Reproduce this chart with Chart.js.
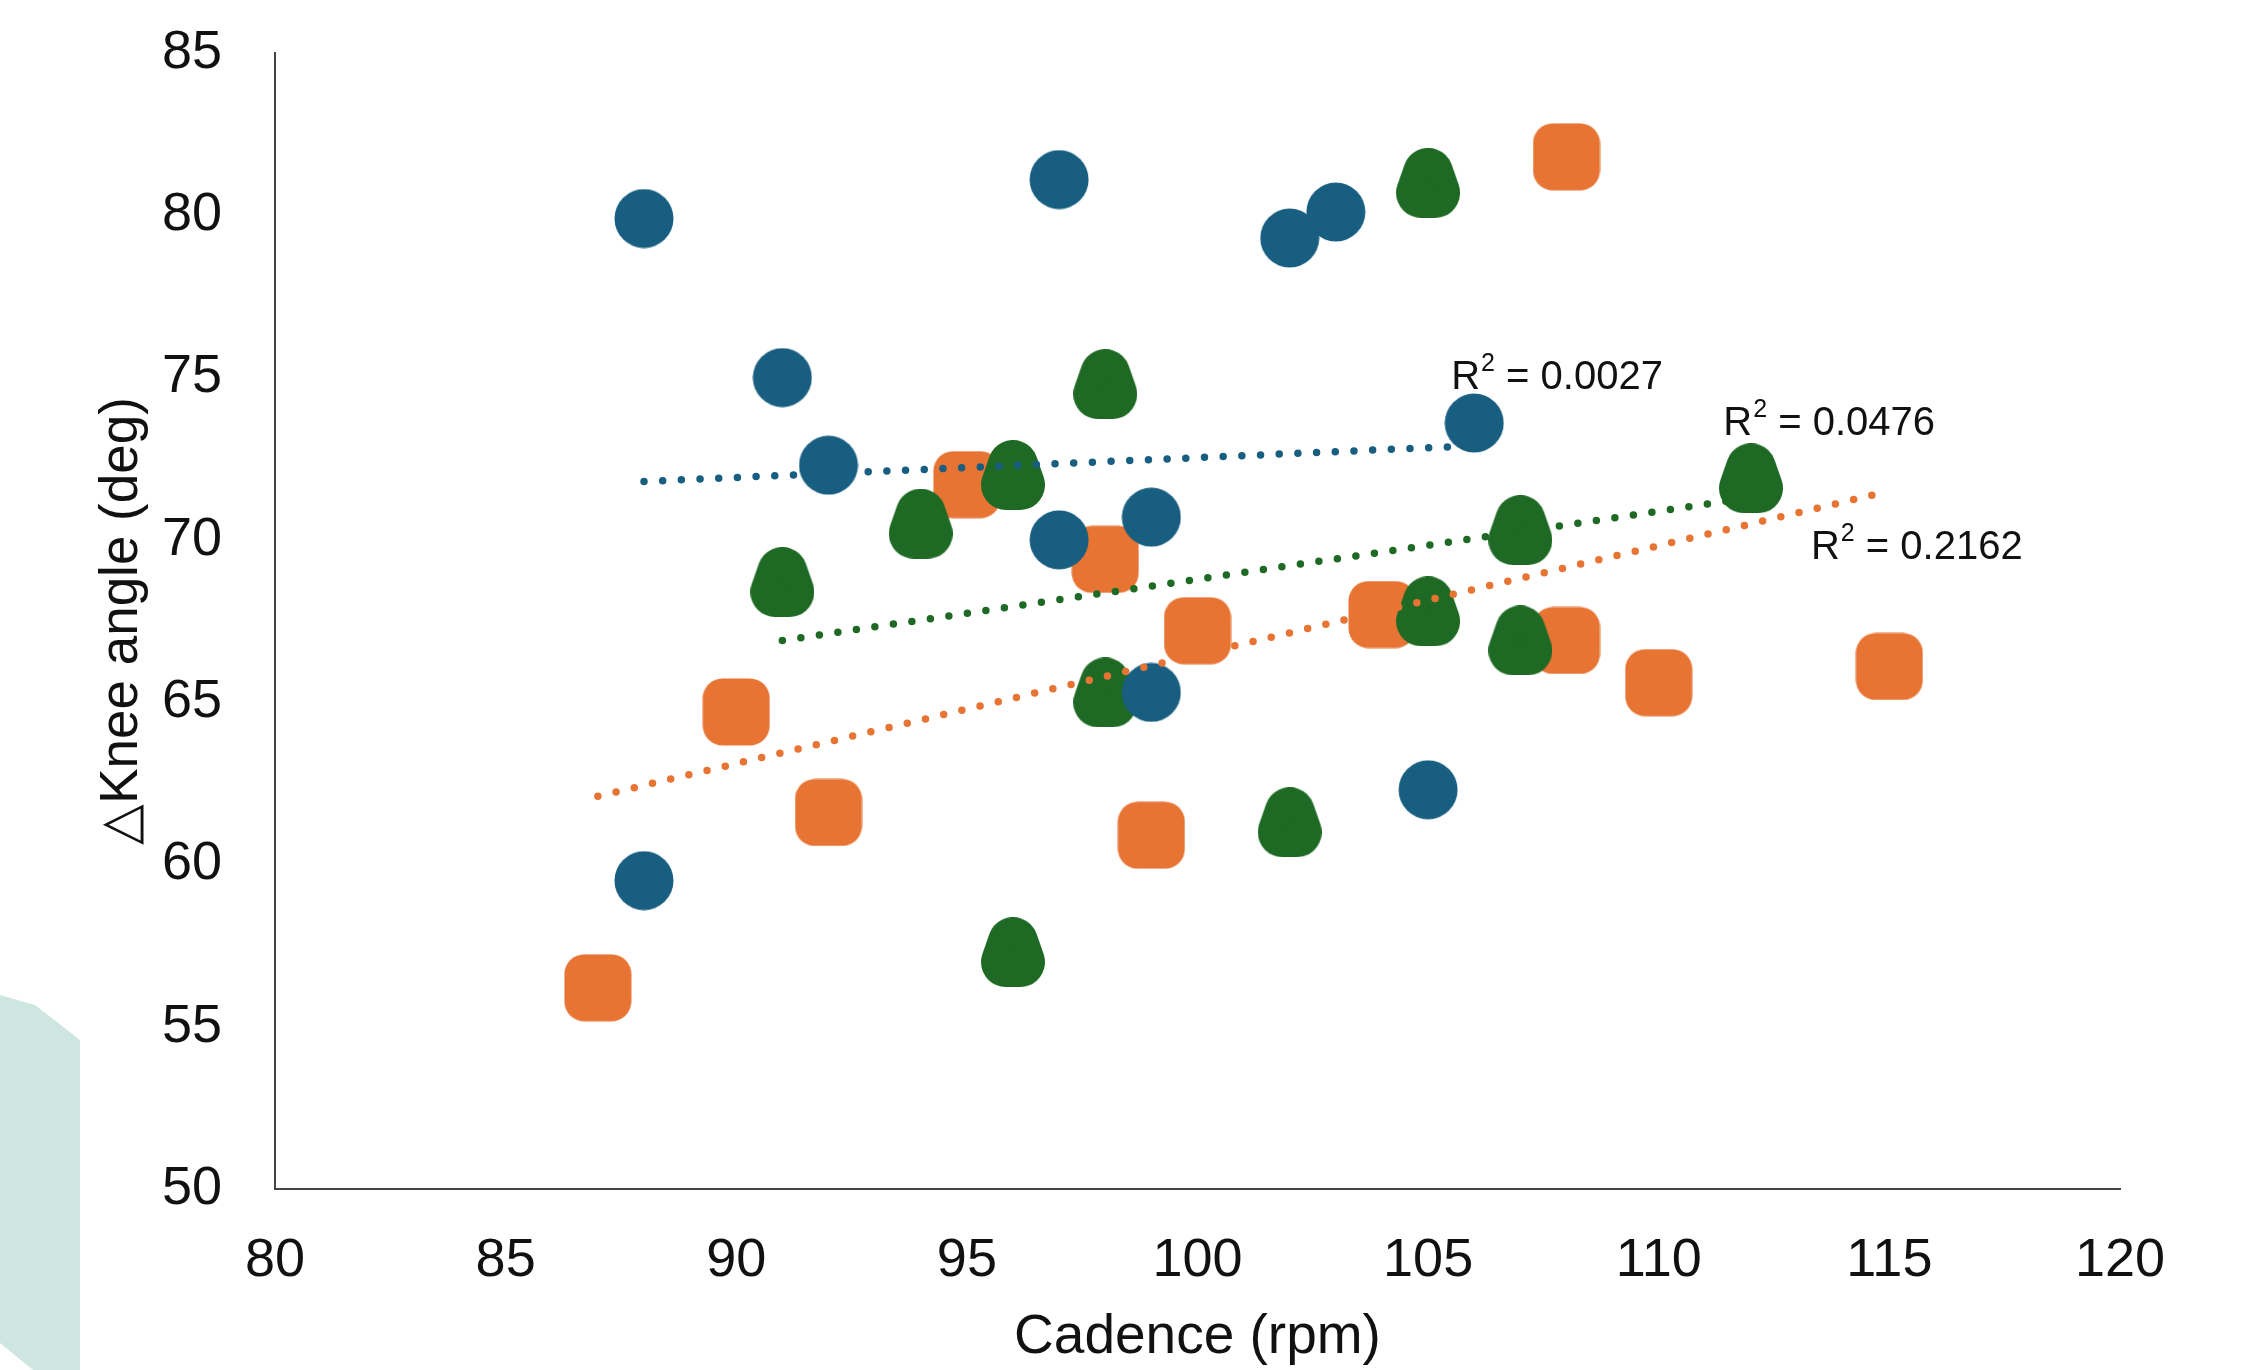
<!DOCTYPE html>
<html lang="en">
<head>
<meta charset="UTF-8">
<title>Knee angle vs cadence</title>
<script src="https://cdn.jsdelivr.net/npm/chart.js"></script>
<style>
  html, body { margin: 0; padding: 0; background: #fff; }
  #wrap { position: relative; width: 2251px; height: 1370px; }
</style>
</head>
<body>
<div id="wrap"><canvas id="kneeChart"></canvas></div>
<script>
// cadence (rpm) and change in knee angle (deg) for each group
const blueCadence = [88, 97, 102, 103, 91, 92, 106, 97, 99, 99, 105, 88];
const blueAngle = [79.9, 81.1, 79.3, 80.1, 75.0, 72.3, 73.6, 70.0, 70.7, 65.3, 62.3, 59.5];
const orangeCadence = [108, 95, 98, 100, 104, 108, 110, 115, 90, 92, 99, 87];
const orangeAngle = [81.8, 71.7, 69.4, 67.2, 67.7, 66.9, 65.6, 66.1, 64.7, 61.6, 60.9, 56.2];
const greenCadence = [105, 98, 96, 94, 91, 112, 107, 105, 107, 98, 102, 96];
const greenAngle = [81.0, 74.8, 72.0, 70.5, 68.7, 71.9, 70.3, 67.8, 66.9, 65.3, 61.3, 57.3];

// linear trendline end points
const blueTrendX = [88, 106];
const blueTrendY = [71.8, 72.9];
const greenTrendX = [91, 112];
const greenTrendY = [66.9, 71.3];
const orangeTrendX = [87, 115];
const orangeTrendY = [62.1, 71.5];

// R² labels (blue, green, orange) and where they sit in data units
const r2Values = ['0.0027', '0.0476', '0.2162'];
const r2AtX = [105.5, 111.4, 113.3];
const r2AtY = [74.65, 73.23, 69.4];

const BLUE = '#185e80';
const ORANGE = '#e87434';
const GREEN = '#1e6a24';
const FONT = "'Liberation Sans', Arial, sans-serif";

function toPoints(xs, ys) {
    return xs.map((x, i) => ({ x: x, y: ys[i] }));
}

// excel-like marker shapes drawn once on small canvases
function makeMarker(shape, color) {
    const c = document.createElement('canvas');
    if (shape === 'circle') { c.width = 60; c.height = 60; }
    else if (shape === 'square') { c.width = 68; c.height = 68; }
    else { c.width = 64; c.height = 70; }
    const g = c.getContext('2d');
    g.fillStyle = color;
    g.strokeStyle = color;
    g.beginPath();
    if (shape === 'circle') {
        g.arc(30, 30, 29.5, 0, Math.PI * 2);
        g.fill();
    } else if (shape === 'square') {
        g.roundRect(0.5, 0.5, 67, 67, 20);
        g.fill();
    } else {
        const r = 25;
        g.lineWidth = 2 * r;
        g.lineJoin = 'round';
        g.moveTo(32, r);
        g.lineTo(64 - r, 70 - r);
        g.lineTo(r, 70 - r);
        g.closePath();
        g.stroke();
        g.fill();
    }
    return c;
}

function trend(xs, ys, color) {
    return {
        type: 'line',
        data: toPoints(xs, ys),
        borderColor: color,
        borderWidth: 7.5,
        borderDash: [0, 18.7],
        borderCapStyle: 'round',
        pointRadius: 0,
        fill: false,
        order: 0
    };
}

function scatter(xs, ys, color, shape, order) {
    return {
        type: 'scatter',
        data: toPoints(xs, ys),
        pointStyle: makeMarker(shape, color),
        pointRadius: 30,
        backgroundColor: color,
        order: order
    };
}

// pale teal shape at the bottom left corner
const cornerShape = {
    id: 'cornerShape',
    beforeDraw(chart) {
        const ctx = chart.ctx;
        ctx.save();
        ctx.fillStyle = '#cde6df';
        ctx.beginPath();
        ctx.moveTo(0, 995);
        ctx.lineTo(35, 1005);
        ctx.lineTo(80, 1040);
        ctx.lineTo(80, 1370);
        ctx.lineTo(33, 1370);
        ctx.lineTo(0, 1343);
        ctx.closePath();
        ctx.fill();
        ctx.restore();
    }
};

const r2Text = {
    id: 'r2Text',
    afterDatasetsDraw(chart) {
        const { ctx, scales: { x, y } } = chart;
        ctx.save();
        ctx.fillStyle = '#111';
        ctx.textBaseline = 'alphabetic';
        ctx.textAlign = 'left';
        r2Values.forEach((v, i) => {
            let px = x.getPixelForValue(r2AtX[i]);
            const py = y.getPixelForValue(r2AtY[i]);
            ctx.font = '40px ' + FONT;
            ctx.fillText('R', px, py);
            px += ctx.measureText('R').width;
            ctx.font = '25px ' + FONT;
            ctx.fillText('2', px + 1, py - 18);
            px += ctx.measureText('2').width + 1;
            ctx.font = '40px ' + FONT;
            ctx.fillText(' = ' + v, px, py);
        });
        ctx.restore();
    }
};

const ctx = document.getElementById('kneeChart').getContext('2d');

const kneeChart = new Chart(ctx, {
    type: 'scatter',
    data: {
        datasets: [
            trend(blueTrendX, blueTrendY, BLUE),
            trend(greenTrendX, greenTrendY, GREEN),
            trend(orangeTrendX, orangeTrendY, ORANGE),
            scatter(blueCadence, blueAngle, BLUE, 'circle', 1),
            scatter(greenCadence, greenAngle, GREEN, 'drop', 2),
            scatter(orangeCadence, orangeAngle, ORANGE, 'square', 3)
        ]
    },
    options: {
        responsive: true,
        maintainAspectRatio: false,
        animation: false,
        layout: { padding: { top: 53, right: 131, bottom: 0, left: 0 } },
        plugins: {
            legend: { display: false },
            tooltip: { enabled: false }
        },
        scales: {
            x: {
                type: 'linear',
                min: 80,
                max: 120,
                grid: { display: false, drawTicks: false },
                border: { color: '#444', width: 2 },
                ticks: {
                    stepSize: 5,
                    autoSkip: false,
                    maxRotation: 0,
                    padding: 40,
                    color: '#111',
                    font: { family: FONT, size: 54 }
                },
                title: {
                    display: true,
                    text: 'Cadence (rpm)',
                    color: '#111',
                    font: { family: FONT, size: 55, lineHeight: 1 },
                    padding: { top: 0, bottom: 5 }
                },
                afterFit(scale) { scale.height = 181; }
            },
            y: {
                type: 'linear',
                min: 50,
                max: 85,
                grid: { display: false, drawTicks: false },
                border: { color: '#444', width: 2 },
                ticks: {
                    stepSize: 5,
                    padding: 53,
                    color: '#111',
                    font: { family: FONT, size: 54 }
                },
                title: {
                    display: true,
                    text: '△Knee angle (deg)',
                    color: '#111',
                    font: { family: FONT, size: 53, lineHeight: 1 },
                    padding: { top: 96, bottom: 0 }
                },
                afterFit(scale) {
                    scale.width = 275;
                    // the tick padding should not push the plot area down
                    scale.paddingTop = 0;
                    scale.paddingBottom = 0;
                }
            }
        }
    },
    plugins: [cornerShape, r2Text]
});
</script>
</body>
</html>
